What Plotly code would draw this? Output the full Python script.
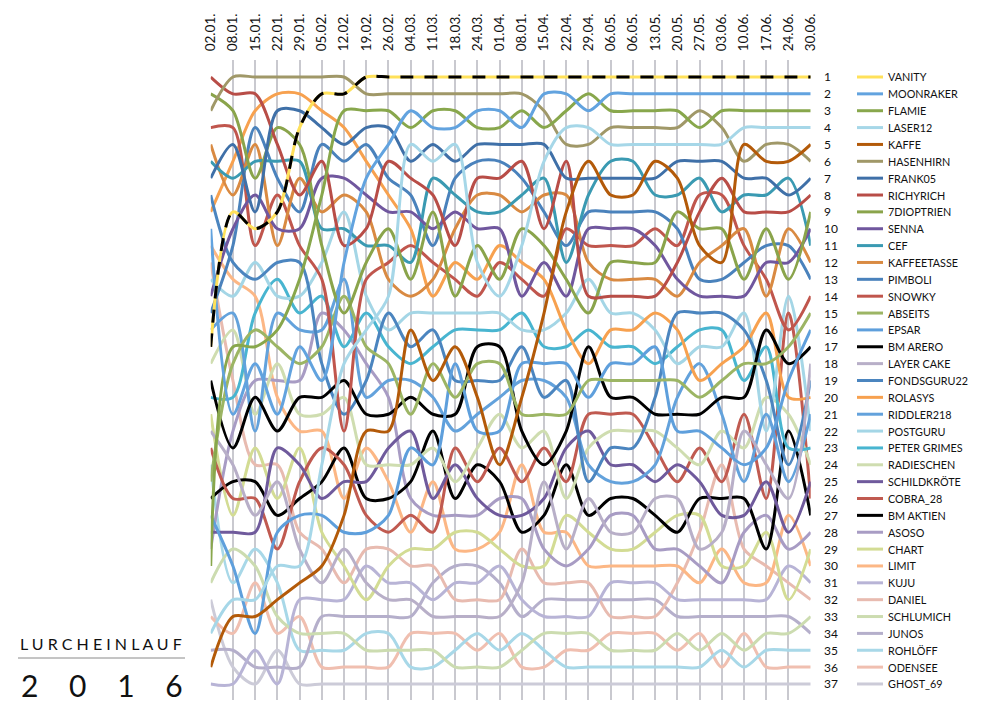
import plotly.graph_objects as go

dates = ["02.01.","08.01.","15.01.","22.01.","29.01.","05.02.","12.02.","19.02.","26.02.","04.03.","11.03.","18.03.","24.03.","01.04.","08.01.","15.04.","22.04.","29.04.","06.05.","06.05.","13.05.","20.05.","27.05.","03.06.","10.06.","17.06.","24.06.","30.06."]

vanity = [17,9,10,9,4,2,2,1,1,1,1,1,1,1,1,1,1,1,1,1,1,1,1,1,1,1,1,1]
moonraker = [10,21,18,21,17,19,12,7,5,3,4,4,3,3,4,2,2,3,2,2,2,2,2,2,2,2,2,2]
flamie = [30,17,17,16,13,8,3,3,3,4,3,3,4,4,3,4,3,2,3,3,3,3,4,3,3,3,3,3]
laser12 = [34,32,32,30,30,24,18,16,14,5,6,5,12,14,11,6,4,4,5,5,5,5,5,5,4,4,4,4]
kaffe = [36,33,33,32,31,30,27,22,22,16,19,17,20,24,20,15,9,6,8,8,6,7,11,12,5,6,6,5]
hasenhirn = [3,1,1,1,1,1,1,2,2,2,2,2,2,2,2,3,5,5,4,4,4,4,3,4,6,5,5,6]
frank05 = [7,5,9,3,3,4,5,4,4,6,5,6,5,5,5,5,7,7,7,7,7,6,6,6,7,7,8,7]
richyrich = [1,2,2,5,8,6,11,10,6,7,8,11,7,7,6,10,6,14,14,14,14,12,9,7,9,9,9,8]
dioptrien7 = [2,3,7,4,5,11,15,12,10,13,9,14,11,13,10,11,13,15,12,12,12,9,10,10,13,10,13,9]
senna = [14,10,8,10,10,7,7,8,9,9,10,9,10,10,14,12,14,10,10,10,11,13,14,14,14,12,12,10]
cef = [6,7,6,6,6,10,10,11,11,12,7,8,9,9,8,7,12,8,6,6,8,8,7,9,8,8,7,11]
kaffeetasse = [5,8,5,11,7,9,8,9,13,14,13,10,8,8,9,8,8,12,13,13,13,14,12,11,10,14,10,12]
pimboli = [15,11,4,7,9,5,6,5,7,8,11,7,6,6,7,9,11,9,9,9,9,10,13,13,12,11,11,13]
snowky = [4,4,11,8,11,13,22,13,12,11,12,13,14,12,13,14,10,11,11,11,10,11,8,8,11,13,16,14]
abseits = [25,18,16,17,18,17,14,17,18,21,18,20,18,18,21,21,21,19,19,19,19,19,20,19,18,18,17,15]
epsar = [27,30,34,28,27,27,28,28,27,23,24,18,22,22,18,18,18,20,18,18,17,22,22,23,24,23,19,16]
bm_arero = [19,23,20,22,20,20,19,21,21,20,21,21,17,17,22,24,22,17,20,20,21,21,21,20,20,16,18,17]
layer_cake = [22,24,27,25,29,31,29,31,32,32,33,33,33,33,31,25,29,26,28,28,26,26,29,28,22,24,26,18]
fondsguru22 = [8,12,13,12,12,18,21,19,15,17,16,19,19,19,17,20,19,25,23,23,20,15,15,15,16,19,24,19]
rolasys = [9,6,3,2,2,3,4,6,8,10,14,12,13,11,12,13,16,18,16,16,15,16,19,18,17,15,20,20]
riddler218 = [16,15,22,15,16,16,13,20,19,19,20,22,21,20,19,19,20,24,25,25,24,20,18,21,25,21,25,21]
postguru = [13,14,12,14,14,12,9,14,16,15,15,15,15,15,16,16,15,13,15,15,16,18,17,17,15,22,14,22]
peter_grimes = [20,20,15,13,15,14,17,15,17,18,17,16,16,16,15,17,17,16,17,17,18,17,16,16,19,17,23,23]
radieschen = [18,16,21,18,21,21,20,24,24,24,23,25,23,21,23,22,26,23,22,22,22,23,24,22,23,20,21,24]
schildkroete = [28,28,28,23,24,26,25,25,23,22,26,24,26,27,27,26,23,22,24,24,25,24,25,27,27,25,28,25]
cobra_28 = [23,26,26,29,25,23,24,27,28,27,28,23,25,23,25,23,25,21,21,21,23,25,23,25,21,26,15,26]
bm_aktien = [26,25,25,27,26,25,23,26,26,25,22,26,24,25,28,27,24,27,26,26,27,28,26,26,26,29,22,27]
asoso = [29,22,19,19,19,15,16,18,20,26,27,27,27,26,26,29,30,29,27,27,29,29,30,31,28,27,29,28]
chart = [21,27,23,26,23,28,30,32,30,29,29,28,28,29,30,30,27,28,29,29,28,27,27,30,30,28,32,29]
limit = [11,13,14,20,22,22,26,23,25,28,25,29,29,28,24,28,28,30,30,30,30,30,31,29,31,31,27,30]
kuju = [37,37,35,37,32,32,32,30,31,31,32,31,31,30,32,33,33,33,31,31,31,32,32,32,32,32,30,31]
daniel = [12,19,24,24,28,29,31,29,29,30,30,32,32,32,29,31,31,31,33,33,33,31,28,24,29,30,31,32]
schlumich = [31,29,30,33,34,34,34,35,35,35,35,36,36,36,35,34,34,34,35,35,35,34,35,34,35,34,34,33]
junos = [35,35,36,36,36,33,33,33,33,33,31,30,30,31,33,32,32,32,32,32,32,33,33,33,33,33,33,34]
rohloeff = [24,31,29,31,35,35,35,34,34,36,36,35,34,35,34,35,36,36,36,36,36,36,36,35,36,35,35,35]
odensee = [33,34,31,34,33,36,36,36,36,34,34,34,35,34,36,36,35,35,34,34,34,35,34,36,34,36,36,36]
ghost_69 = [32,36,37,35,37,37,37,37,37,37,37,37,37,37,37,37,37,37,37,37,37,37,37,37,37,37,37,37]

names = ["VANITY","MOONRAKER","FLAMIE","LASER12","KAFFE","HASENHIRN","FRANK05","RICHYRICH","7DIOPTRIEN","SENNA","CEF","KAFFEETASSE","PIMBOLI","SNOWKY","ABSEITS","EPSAR","BM ARERO","LAYER CAKE","FONDSGURU22","ROLASYS","RIDDLER218","POSTGURU","PETER GRIMES","RADIESCHEN","SCHILDKRÖTE","COBRA_28","BM AKTIEN","ASOSO","CHART","LIMIT","KUJU","DANIEL","SCHLUMICH","JUNOS","ROHLÖFF","ODENSEE","GHOST_69"]
series = [vanity,moonraker,flamie,laser12,kaffe,hasenhirn,frank05,richyrich,dioptrien7,senna,cef,kaffeetasse,pimboli,snowky,abseits,epsar,bm_arero,layer_cake,fondsguru22,rolasys,riddler218,postguru,peter_grimes,radieschen,schildkroete,cobra_28,bm_aktien,asoso,chart,limit,kuju,daniel,schlumich,junos,rohloeff,odensee,ghost_69]
colors = ["#FFE15A","#62A3DF","#88A74C","#A6D7E8","#B35A09","#A09868","#3F70A8","#B84D47","#8AA44B","#70579E","#3A9AB2","#D98A42","#4A82BC","#C0564D","#9CB564","#5E9FDC","#000000","#B8AFC8","#4B85BF","#F7A14F","#63A2DC","#A4D6E6","#48B5D0","#CFDDB0","#6F5A9C","#C05A50","#000000","#A89CC4","#D3DC94","#FCB785","#B8B4D6","#E8BBB0","#CCDCB0","#B5AFCB","#A8D8E8","#F0BFB0","#CCCBD8"]

W, H = 1000, 716
OFF = 8  # the page body margin
FONT = "Lato, Carlito, Calibri, sans-serif"
x_idx = list(range(len(dates)))
def px(v): return (v - OFF) / W
def py(v): return 1 - (v - OFF) / H

fig = go.Figure()
for i in range(len(series) - 1, -1, -1):
    fig.add_trace(go.Scatter(x=x_idx, y=series[i], mode="lines", name=names[i], showlegend=False,
                             line=dict(color=colors[i], width=3, shape="spline", smoothing=0.85)))
fig.add_trace(go.Scatter(x=x_idx, y=vanity, mode="lines", name="VANITY", showlegend=False,
                         line=dict(color="#000000", width=3, shape="spline", smoothing=0.85, dash="13px,11px")))

ann = []
shapes = []
for i, nm in enumerate(names):
    rank = i + 1
    ann.append(dict(x=px(822), xref="paper", y=rank, yref="y", text=str(rank), showarrow=False, xanchor="left",
                    font=dict(family=FONT, size=12, color="#111111")))
    ann.append(dict(x=px(886), xref="paper", y=rank, yref="y", text=nm, showarrow=False, xanchor="left",
                    font=dict(family=FONT, size=10.8, color="#111111")))
    shapes.append(dict(type="line", xref="paper", yref="y", x0=px(857), x1=px(883), y0=rank, y1=rank,
                       line=dict(color=colors[i], width=3)))

gap2 = "\u00a0" * 4
ann.append(dict(x=px(101), xref="paper", y=py(643), yref="paper", showarrow=False, xanchor="center", yanchor="middle",
                text="\u00a0".join("LURCHEINLAUF"),
                font=dict(family=FONT, size=16, color="#111111")))
ann.append(dict(x=px(102), xref="paper", y=py(685), yref="paper", showarrow=False, xanchor="center", yanchor="middle",
                text=gap2.join("2016"),
                font=dict(family=FONT, size=30, color="#111111")))
shapes.append(dict(type="line", xref="paper", yref="paper", x0=px(18), x1=px(185), y0=py(658), y1=py(658),
                   line=dict(color="#8A8A8A", width=1)))

fig.update_layout(
    width=W, height=H, autosize=False, margin=dict(l=0, r=0, t=0, b=0),
    paper_bgcolor="#FFFFFF", plot_bgcolor="#FFFFFF", showlegend=False,
    font=dict(family=FONT, color="#111111"),
    annotations=ann, shapes=shapes,
    xaxis=dict(domain=[px(210.7), px(810.7)], range=[0, 27], side="top", tickmode="array", tickvals=x_idx,
               ticktext=dates, tickangle=-90, tickfont=dict(family=FONT, size=13.5, color="#111111"),
               showgrid=True, gridcolor="#C9C9CF", gridwidth=1.5, zeroline=False, showline=False,
               ticks="outside", ticklen=5, tickcolor="rgba(255,255,255,0)",
               anchor="y", automargin=False),
    yaxis=dict(domain=[py(700), py(60)], range=[37.95, -0.008], showgrid=False, zeroline=False, showticklabels=False,
               ticks="", showline=False, automargin=False),
)
fig.write_html("out.html")
